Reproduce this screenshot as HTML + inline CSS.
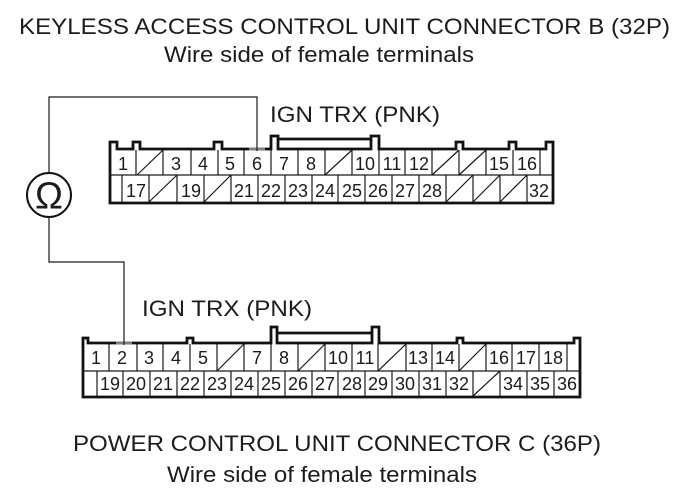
<!DOCTYPE html>
<html>
<head>
<meta charset="utf-8">
<style>
html,body{margin:0;padding:0;background:#fff;width:686px;height:494px;overflow:hidden}
svg{display:block}
text{font-family:"Liberation Sans",Arial,sans-serif;fill:#1c1c1c}
.t{font-size:22.4px}
.n text{font-size:18px;text-anchor:middle}
.thin{stroke:#1a1a1a;stroke-width:1.2;fill:none}
.thick{stroke:#111;stroke-width:2.8;fill:none}
</style>
</head>
<body>
<svg width="686" height="494" viewBox="0 0 686 494" xmlns="http://www.w3.org/2000/svg">
<rect width="686" height="494" fill="#fff"/>

<text class="t" x="19" y="34" textLength="651" lengthAdjust="spacingAndGlyphs">KEYLESS ACCESS CONTROL UNIT CONNECTOR B (32P)</text>
<text class="t" x="164" y="62" textLength="310" lengthAdjust="spacingAndGlyphs">Wire side of female terminals</text>
<text class="t" x="270" y="122" textLength="170" lengthAdjust="spacingAndGlyphs">IGN TRX (PNK)</text>
<text class="t" x="142" y="316" textLength="170" lengthAdjust="spacingAndGlyphs">IGN TRX (PNK)</text>
<text class="t" x="73" y="451" textLength="528" lengthAdjust="spacingAndGlyphs">POWER CONTROL UNIT CONNECTOR C (36P)</text>
<text class="t" x="167" y="482" textLength="310" lengthAdjust="spacingAndGlyphs">Wire side of female terminals</text>

<!-- wires and meter -->
<path class="thin" d="M257 149V97H49V173M49 217V262H124V343"/>
<circle cx="49" cy="195" r="22" fill="#fff" stroke="#111" stroke-width="2"/>
<text x="35" y="208.5" font-size="38" textLength="28" lengthAdjust="spacingAndGlyphs">Ω</text>

<!-- top connector -->
<path class="thin" d="M110 175H552
M136 150V175M163 150V175M191 150V175M218 150V175M244 150V175M271 150V175M298 150V175M325 150V175M352 150V175M379 150V175M405 150V175M432 150V175M459 150V175M486 150V175M513 150V175M540 150V175
M122 175V202M149 175V202M177 175V202M204 175V202M231 175V202M258 175V202M285 175V202M312 175V202M338 175V202M365 175V202M392 175V202M419 175V202M446 175V202M473 175V202M500 175V202M527 175V202
M137 175L163 150M325 175L352 150M432 175L459 150M459 175L486 150
M149 202L177 175M204 202L231 175M446 202L473 175M473 202L500 175M500 202L527 175"/>
<path class="thick" d="M117 149V142H110V203H553V142H546V149H516V142H509V149H463V142H456V149H379V136H371V149H278V136H271V149H222V142H214V149H140V142H133V149Z"/>
<path class="thick" d="M278 139H371" stroke-width="2.4"/>
<rect x="249" y="147" width="16" height="4" fill="#ccc" opacity=".6"/>
<path class="thin" d="M257 147V151"/>
<g class="n">
<text x="123" y="170">1</text><text x="176" y="170">3</text><text x="203" y="170">4</text><text x="230" y="170">5</text><text x="257" y="170">6</text><text x="284" y="170">7</text><text x="311" y="170">8</text><text x="365" y="170">10</text><text x="392" y="170">11</text><text x="419" y="170">12</text><text x="499" y="170">15</text><text x="527" y="170">16</text>
<text x="136" y="197">17</text><text x="191" y="197">19</text><text x="244" y="197">21</text><text x="271" y="197">22</text><text x="298" y="197">23</text><text x="325" y="197">24</text><text x="352" y="197">25</text><text x="378" y="197">26</text><text x="405" y="197">27</text><text x="432" y="197">28</text><text x="539" y="197">32</text>
</g>

<!-- bottom connector -->
<path class="thin" d="M83 371H579
M109 344V371M137 344V371M163 344V371M190 344V371M217 344V371M244 344V371M271 344V371M298 344V371M325 344V371M352 344V371M378 344V371M406 344V371M432 344V371M459 344V371M486 344V371M512 344V371M539 344V371M567 344V371
M97 371V396M123 371V396M150 371V396M177 371V396M204 371V396M231 371V396M258 371V396M285 371V396M312 371V396M338 371V396M365 371V396M392 371V396M419 371V396M446 371V396M473 371V396M500 371V396M527 371V396M554 371V396
M217 371L244 344M298 371L325 344M378 371L406 344M459 371L486 344M473 396L500 371"/>
<path class="thick" d="M88 343V338H83V397H580V338H574V343H463V338H457V343H379V327H372V343H277V327H271V343H193V338H187V343Z"/>
<path class="thick" d="M277 333H372" stroke-width="2.4"/>
<rect x="116" y="341" width="16" height="4" fill="#ccc" opacity=".6"/>
<path class="thin" d="M124 341V345"/>
<g class="n">
<text x="96" y="364">1</text><text x="122" y="364">2</text><text x="149" y="364">3</text><text x="176" y="364">4</text><text x="203" y="364">5</text><text x="257" y="364">7</text><text x="284" y="364">8</text><text x="338" y="364">10</text><text x="365" y="364">11</text><text x="418" y="364">13</text><text x="445" y="364">14</text><text x="499" y="364">16</text><text x="526" y="364">17</text><text x="553" y="364">18</text>
<text x="110" y="390">19</text><text x="136" y="390">20</text><text x="163" y="390">21</text><text x="190" y="390">22</text><text x="217" y="390">23</text><text x="244" y="390">24</text><text x="271" y="390">25</text><text x="298" y="390">26</text><text x="325" y="390">27</text><text x="352" y="390">28</text><text x="378" y="390">29</text><text x="405" y="390">30</text><text x="432" y="390">31</text><text x="459" y="390">32</text><text x="513" y="390">34</text><text x="540" y="390">35</text><text x="567" y="390">36</text>
</g>
</svg>
</body>
</html>
